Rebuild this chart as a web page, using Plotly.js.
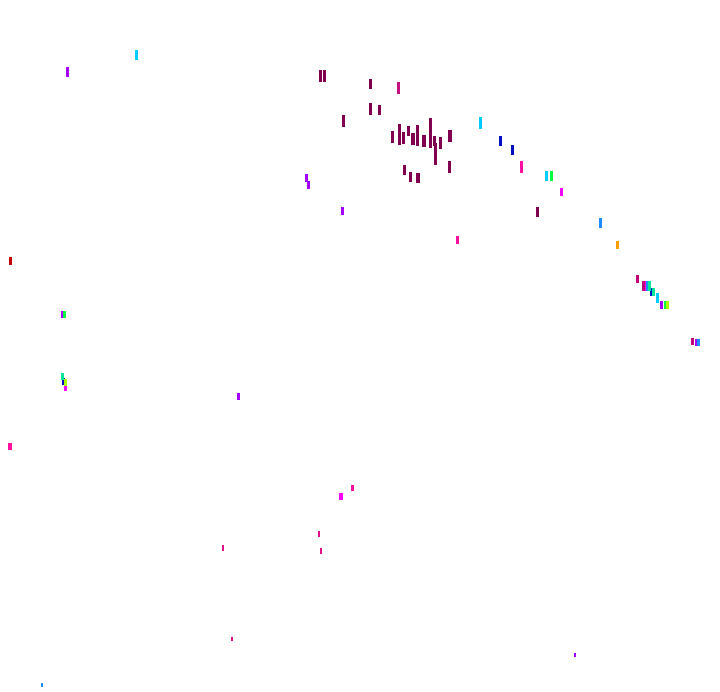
<!DOCTYPE html>
<html>
<head>
<meta charset="utf-8">
<script src="https://cdn.plot.ly/plotly-3.0.1.min.js"></script>
<style>html,body{margin:0;padding:0;background:#fff;}#chart{width:720px;height:692px;}
#chart path.point{shape-rendering:crispEdges;}</style>
</head>
<body>
<div id="chart"></div>
<script>
// Series names and their point values (x, y)
const seriesNames = ["S1","S2","S3","S4","S5","S6","S7","S8","S9","S10","S11","S12","S13","S14","S15"];
const s1x = [320,324,370,370,379,343,392,399,403,408,413,417,424,430,434,435,440,450,449,404,410,418,537];
const s1y = [76,76,84,109,110,121,137,134,138,131,139,135,141,133,141,154,143,136,167,170,177,178,212];
const s2x = [398];
const s2y = [88];
const s3x = [67,306,308,342,238,661,696,62,575];
const s3y = [72,178,185,211,396,305,342,314,655];
const s4x = [136,480,546,657];
const s4y = [55,123,176,298];
const s5x = [500,512,651,63];
const s5y = [141,150,292,381];
const s6x = [521,457,10,352];
const s6y = [167,240,446,488];
const s7x = [551,64,665];
const s7y = [176,314,305];
const s8x = [561,645,341,65];
const s8y = [192,286,496,387];
const s9x = [600,647,698,42];
const s9y = [223,286,342,685];
const s10x = [617];
const s10y = [245];
const s11x = [637,643,692];
const s11y = [279,286,341];
const s12x = [649,653,62];
const s12y = [286,292,376];
const s13x = [667,65];
const s13y = [305,382];
const s14x = [10];
const s14y = [261];
const s15x = [319,223,321,232];
const s15y = [534,548,551,639];

// styles (kept separate from data)
const colors = ["#80004f","#c8107e","#a400ff","#00ccff","#0010c0","#ff10a0","#00ff40","#ff00ff","#1c8cff","#ffa000","#c0007a","#00e69a","#a8ff00","#c40000","#e0108c"];
const heights = [
  [8,8,7,8,7,8,8,15,8,7,8,15,8,22,7,16,8,8,8,7,7,7,7],
  [8],[7,6,6,6,5,6,5,5,3],[7,8,7,7],[7,7,6,5],[8,6,5,4],[7,5,6],[6,7,5,5],[7,7,5,3],[6],[6,7,5],[7,6,5],[6,5],[6],[4,4,4,3]
];
const widths = [
  [3,3,3,3,3,3,3,3,3,3,4,3,4,3,3,3,3,4,3,3,3,4,3],
  [3],[3,3,3,3,3,3,3,3,2],[3,3,3,3],[3,3,3,3],[3,3,4,3],[3,3,3],[3,3,4,3],[3,3,3,2],[3],[3,3,3],[3,3,3],[3,3],[3],[2,2,2,2]
];

const xs = [s1x,s2x,s3x,s4x,s5x,s6x,s7x,s8x,s9x,s10x,s11x,s12x,s13x,s14x,s15x];
const ys = [s1y,s2y,s3y,s4y,s5y,s6y,s7y,s8y,s9y,s10y,s11y,s12y,s13y,s14y,s15y];

const traces = seriesNames.map((n, i) => ({
  type: "scatter",
  mode: "markers",
  name: n,
  x: xs[i],
  y: ys[i],
  showlegend: false,
  hoverinfo: "skip",
  opacity: 1,
  marker: {
    symbol: "line-ns",
    size: heights[i],
    opacity: 1,
    color: colors[i],
    line: { color: colors[i], width: widths[i] }
  }
}));

const layout = {
  width: 720,
  height: 692,
  margin: { l: 0, r: 0, t: 0, b: 0 },
  paper_bgcolor: "#ffffff",
  plot_bgcolor: "#ffffff",
  xaxis: { range: [0, 720], visible: false, fixedrange: true },
  yaxis: { range: [692, 0], visible: false, fixedrange: true },
  showlegend: false,
  hovermode: false
};

Plotly.newPlot("chart", traces, layout, { staticPlot: true, displayModeBar: false });
</script>
</body>
</html>
